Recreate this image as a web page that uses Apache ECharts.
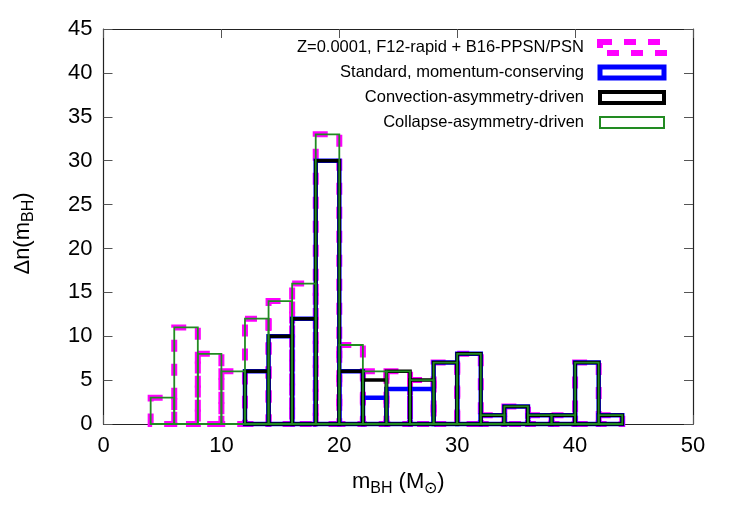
<!DOCTYPE html>
<html>
<head>
<meta charset="utf-8">
<script src="https://cdn.jsdelivr.net/npm/echarts@6/dist/echarts.min.js"></script>
<style>
html, body { margin: 0; padding: 0; background: #fff; }
#chart { width: 750px; height: 525px; }
</style>
</head>
<body>
<div id="chart"></div>
<script>
// histogram bins (left edge, width 2 Msun)
var binStart = [4, 6, 8, 10, 12, 14, 16, 18, 20, 22, 24, 26, 28, 30, 32, 34, 36, 38, 40, 42];
var binWidth = 2;

var psnCounts        = [3, 11, 8, 6, 12, 14, 16, 33, 9, 6, 6, 5, 7, 8, 1, 2, 1, 1, 7, 1];
var standardCounts   = [null, null, null, null, 6, 10, 12, 30, 6, 3, 4, 4, 7, 8, 1, 2, 1, 1, 7, 1];
var convectionCounts = [null, null, null, null, 6, 10, 12, 30, 6, 5, 6, 5, 7, 8, 1, 2, 1, 1, 7, 1];
var collapseCounts   = [3, 11, 8, 6, 12, 14, 16, 33, 9, 6, 6, 5, 7, 8, 1, 2, 1, 1, 7, 1];

var seriesNames = [
    'Z=0.0001, F12-rapid + B16-PPSN/PSN',
    'Standard, momentum-conserving',
    'Convection-asymmetry-driven',
    'Collapse-asymmetry-driven'
];

function toBoxes(counts) {
    var out = [];
    for (var i = 0; i < binStart.length; i++) {
        if (counts[i] == null) continue;
        out.push([binStart[i], binStart[i] + binWidth, counts[i]]);
    }
    return out;
}

function boxSeries(name, counts, color, width, dash) {
    return {
        name: name,
        type: 'custom',
        itemStyle: { color: color },
        data: toBoxes(counts),
        renderItem: function (params, api) {
            var p0 = api.coord([api.value(0), 0]);
            var p1 = api.coord([api.value(1), api.value(2)]);
            return {
                type: 'rect',
                shape: { x: p0[0], y: p1[1], width: p1[0] - p0[0], height: p0[1] - p1[1] },
                style: { fill: 'none', stroke: color, lineWidth: width, lineDash: dash || null }
            };
        }
    };
}

function frame() {
    return { show: true, onZero: false, lineStyle: { color: '#222', width: 1.2 } };
}
function ticks() {
    return { show: true, inside: true, length: 9, lineStyle: { color: '#555', width: 1 } };
}

// subscript via a padded token, since rich verticalAlign is not used here
var titleRich = {
    n: { fontSize: 22, lineHeight: 22, color: '#000' },
    s: { fontSize: 16, lineHeight: 16, padding: [13, 0, 0, 0], color: '#000' }
};

var myChart = echarts.init(document.getElementById('chart'));

var option = {
    backgroundColor: '#fff',
    animation: false,
    textStyle: { fontFamily: 'Liberation Sans, Arial, sans-serif' },
    grid: { left: 103, right: 57, top: 29, bottom: 101 },
    legend: {
        orient: 'vertical',
        align: 'right',
        right: 83,
        top: 39,
        padding: 0,
        itemWidth: 64,
        itemHeight: 11,
        itemGap: 8,
        textStyle: { fontSize: 16.5, lineHeight: 16, color: '#000', padding: [0, 11, 0, 0] },
        data: [
            { name: seriesNames[0], icon: 'rect', itemStyle: { color: 'rgba(0,0,0,0)', borderColor: '#ff00ff', borderWidth: 6, borderType: [12, 12] } },
            { name: seriesNames[1], icon: 'rect', itemStyle: { color: 'rgba(0,0,0,0)', borderColor: '#0000ff', borderWidth: 5 } },
            { name: seriesNames[2], icon: 'rect', itemStyle: { color: 'rgba(0,0,0,0)', borderColor: '#000000', borderWidth: 4 } },
            { name: seriesNames[3], icon: 'rect', itemStyle: { color: 'rgba(0,0,0,0)', borderColor: '#228b22', borderWidth: 2 } }
        ]
    },
    xAxis: [{
        type: 'value',
        min: 0, max: 50, interval: 10,
        position: 'bottom',
        name: '{n|m}{s|BH}{n| (M}{s|⊙}{n|)}',
        nameLocation: 'middle',
        nameGap: 47,
        nameTextStyle: { rich: titleRich },
        axisLine: frame(),
        axisTick: ticks(),
        splitLine: { show: false },
        axisLabel: { fontSize: 22, color: '#000', margin: 11 }
    }, {
        type: 'value',
        min: 0, max: 50, interval: 10,
        position: 'top',
        axisLine: frame(),
        axisTick: ticks(),
        splitLine: { show: false },
        axisLabel: { show: false }
    }],
    yAxis: [{
        type: 'value',
        min: 0, max: 45, interval: 5,
        position: 'left',
        name: '{n|Δn(m}{s|BH}{n|)}',
        nameLocation: 'middle',
        nameRotate: 90,
        nameGap: 70,
        nameTextStyle: { rich: titleRich, padding: [0, 14, 0, 0] },
        axisLine: frame(),
        axisTick: ticks(),
        splitLine: { show: false },
        axisLabel: { fontSize: 22, color: '#000', margin: 11 }
    }, {
        type: 'value',
        min: 0, max: 45, interval: 5,
        position: 'right',
        axisLine: frame(),
        axisTick: ticks(),
        splitLine: { show: false },
        axisLabel: { show: false }
    }],
    series: [
        boxSeries(seriesNames[0], psnCounts, '#ff00ff', 6, [12, 12]),
        boxSeries(seriesNames[1], standardCounts, '#0000ff', 4.5),
        boxSeries(seriesNames[2], convectionCounts, '#000000', 3.5),
        boxSeries(seriesNames[3], collapseCounts, '#228b22', 1.8)
    ]
};

myChart.setOption(option);
</script>
</body>
</html>
